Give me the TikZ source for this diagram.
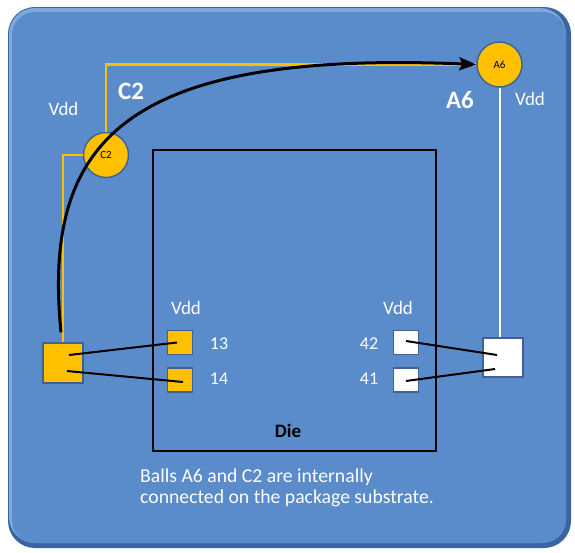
\documentclass[tikz,border=0pt]{standalone}
\usepackage{fontspec}
\setmainfont{Carlito}
\usetikzlibrary{arrows.meta}
\definecolor{pkgblue}{HTML}{5A8BCB}
\definecolor{pkgrim}{HTML}{3A64A0}
\definecolor{pkghi}{HTML}{7FA9DD}
\definecolor{ballyellow}{HTML}{FFC000}
\definecolor{balledge}{HTML}{3F6290}
\begin{document}
\begin{tikzpicture}[x=1pt,y=-1pt,
  ball/.style={circle, fill=ballyellow, draw=balledge, line width=1.4pt,
    minimum size=45pt, inner sep=0pt, font=\fontsize{11}{11}\selectfont},
  pad/.style={rectangle, draw=balledge, line width=1.3pt, inner sep=0pt},
  ypad/.style={pad, fill=ballyellow, minimum width=25pt, minimum height=24pt},
  wpad/.style={pad, fill=white, minimum width=25pt, minimum height=24pt},
  wlabel/.style={text=white, inner sep=0pt, font=\fontsize{19}{22}\selectfont},
  numlabel/.style={text=white, inner sep=0pt, font=\fontsize{18}{22}\selectfont},
  biglabel/.style={text=white, inner sep=0pt, font=\fontsize{25}{28}\selectfont\bfseries},
  yline/.style={draw=ballyellow, line width=2.4pt},
  bwire/.style={draw=black, line width=2pt},
]
\useasboundingbox (0,0) rectangle (575,552);
\fill[white] (0,0) rectangle (575,552);
% package body (bevelled)
\fill[pkgrim, rounded corners=27pt] (8,7) rectangle (571,548);
\fill[pkghi, rounded corners=26pt] (9,8) rectangle (566,543);
\fill[pkgblue, rounded corners=23pt] (12,12) rectangle (566,543);

% die
\node[draw=black, line width=2.5pt, minimum width=283pt, minimum height=301pt,
  inner sep=0pt] (die) at (294.5,300.5) {};
\node[inner sep=0pt, font=\fontsize{19}{22}\selectfont\bfseries] (dielbl) at (288,431) {Die};

% balls
\node[ball] (c2) at (106,155) {C2};
\node[ball] (a6) at (499.5,64.5) {A6};

% package-level squares
\node[pad, fill=ballyellow, minimum width=40pt, minimum height=40pt] (lsq) at (63,363) {};
\node[pad, fill=white, minimum width=40pt, minimum height=39pt] (rsq) at (503,357.5) {};

% die pads
\node[ypad] (p13) at (180,342.5) {};
\node[ypad] (p14) at (180,380) {};
\node[wpad] (p42) at (406,342.5) {};
\node[wpad] (p41) at (406,380) {};

% yellow traces
\draw[yline] (c2.north) |- (a6.west);
\draw[yline] (c2.west) -| (lsq.north);
% white trace
\draw[draw=white, line width=2pt] (a6.south) -- (a6.south |- rsq.north);

% bond wires
\draw[bwire] ([shift={(6,-8)}]lsq.center) -- ([shift={(-3,0)}]p13.center);
\draw[bwire] ([shift={(4,8)}]lsq.center) -- ([shift={(3,2)}]p14.center);
\draw[bwire] ([shift={(0,-1.5)}]p42.center) -- ([shift={(-6,-2.5)}]rsq.center);
\draw[bwire] ([shift={(0,1)}]p41.center) -- ([shift={(-8,11.5)}]rsq.center);

% internal connection arrow
\draw[black, line width=3pt, -{Stealth[length=17pt,width=13pt,inset=3pt]}]
  ([shift={(-2,-10)}]lsq.north) .. controls (42,140) and (125,50) .. (a6.west);

% labels
\node[wlabel] (vddl) at (63.5,109) {Vdd};
\node[biglabel] (c2lbl) at (131,91) {C2};
\node[biglabel] (a6lbl) at (460,100) {A6};
\node[wlabel] (vddr) at (530,99) {Vdd};
\node[wlabel] (vdd1) at (186,308) {Vdd};
\node[wlabel] (vdd2) at (398,308) {Vdd};
\node[numlabel] (n13) at (219,344) {13};
\node[numlabel] (n14) at (219,379) {14};
\node[numlabel] (n42) at (369,344) {42};
\node[numlabel] (n41) at (369,379) {41};
\node[text=white, inner sep=0pt, align=left, anchor=north west,
  font=\fontsize{19.7}{21.5}\selectfont] (cap) at (140,468.3)
  {Balls A6 and C2 are internally\\connected on the package substrate.};
\end{tikzpicture}
\end{document}
